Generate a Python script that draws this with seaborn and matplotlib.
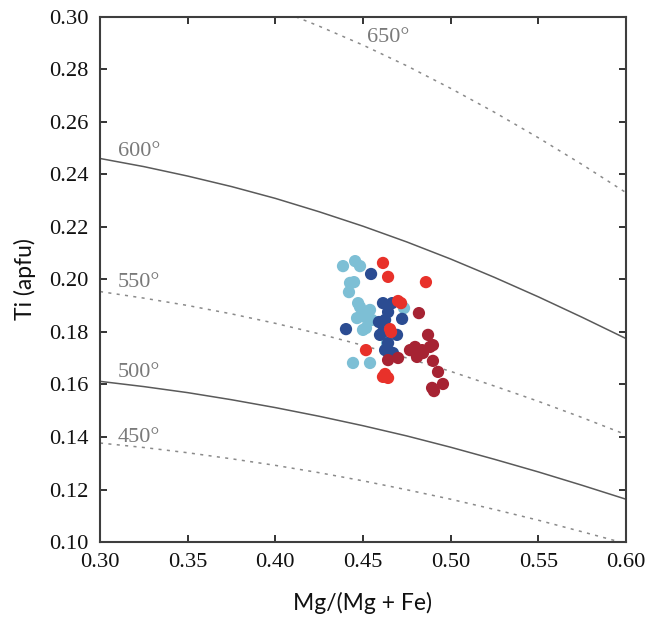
import matplotlib
matplotlib.use("Agg")
import matplotlib.pyplot as plt
import seaborn as sns
import pandas as pd
import numpy as np

# ---------------- data ----------------
# Isotherm curves
iso_x = [0.300, 0.325, 0.350, 0.375, 0.400, 0.425, 0.450, 0.475, 0.500, 0.525, 0.550, 0.575, 0.600]
iso_450 = [0.1377, 0.1360, 0.1340, 0.1317, 0.1292, 0.1264, 0.1233, 0.1199, 0.1163, 0.1124, 0.1083, 0.1039, 0.0994]
iso_500 = [0.1612, 0.1592, 0.1569, 0.1542, 0.1512, 0.1479, 0.1443, 0.1404, 0.1361, 0.1315, 0.1267, 0.1216, 0.1163]
iso_550 = [0.1954, 0.1929, 0.1901, 0.1869, 0.1833, 0.1793, 0.1749, 0.1701, 0.1650, 0.1594, 0.1536, 0.1474, 0.1409]
iso_600 = [0.2461, 0.2430, 0.2394, 0.2354, 0.2309, 0.2258, 0.2203, 0.2143, 0.2078, 0.2008, 0.1934, 0.1856, 0.1775]
iso_650 = [0.3232, 0.3187, 0.3144, 0.3092, 0.3032, 0.2965, 0.2893, 0.2814, 0.2728, 0.2637, 0.2540, 0.2438, 0.2331]
iso_labels = ["450°", "500°", "550°", "600°", "650°"]
iso_label_x = [0.310, 0.310, 0.310, 0.310, 0.452]
iso_label_y = [0.1400, 0.1644, 0.1987, 0.2486, 0.2920]

# Sample groups
lb_x = [0.4386, 0.4455, 0.4483, 0.4426, 0.4449, 0.4420, 0.4472, 0.4483, 0.4540, 0.4466, 0.4511, 0.4551, 0.4500, 0.4517, 0.4443, 0.4540, 0.4734, 0.4637]
lb_y = [0.2051, 0.2070, 0.2051, 0.1987, 0.1990, 0.1952, 0.1910, 0.1895, 0.1884, 0.1853, 0.1857, 0.1846, 0.1808, 0.1815, 0.1682, 0.1682, 0.1891, 0.1758]

db_x = [0.4546, 0.4614, 0.4666, 0.4643, 0.4626, 0.4591, 0.4723, 0.4403, 0.4614, 0.4597, 0.4694, 0.4643, 0.4626, 0.4671, 0.4780, 0.4643]
db_y = [0.2021, 0.1910, 0.1910, 0.1876, 0.1846, 0.1838, 0.1850, 0.1811, 0.1800, 0.1789, 0.1789, 0.1758, 0.1731, 0.1720, 0.1731, 0.1724]

rd_x = [0.4614, 0.4643, 0.4859, 0.4700, 0.4717, 0.4654, 0.4660, 0.4517, 0.4614, 0.4643, 0.4626]
rd_y = [0.2063, 0.2010, 0.1990, 0.1918, 0.1910, 0.1811, 0.1800, 0.1731, 0.1629, 0.1625, 0.1640]

dr_x = [0.4819, 0.4871, 0.4899, 0.4797, 0.4768, 0.4837, 0.4882, 0.4808, 0.4842, 0.4700, 0.4643, 0.4899, 0.4928, 0.4894, 0.4956, 0.4905]
dr_y = [0.1872, 0.1789, 0.1750, 0.1743, 0.1731, 0.1731, 0.1743, 0.1705, 0.1720, 0.1701, 0.1693, 0.1690, 0.1648, 0.1587, 0.1602, 0.1575]

group_names = ["A", "B", "C", "D"]
group_colors = ["#7dbfd5", "#2b4c92", "#e8312a", "#a62333"]

x_ticks = [0.30, 0.35, 0.40, 0.45, 0.50, 0.55, 0.60]
y_ticks = [0.10, 0.12, 0.14, 0.16, 0.18, 0.20, 0.22, 0.24, 0.26, 0.28, 0.30]

# ---------------- build tables ----------------
pts = pd.concat([
    pd.DataFrame({"x": lb_x, "y": lb_y, "g": group_names[0]}),
    pd.DataFrame({"x": db_x, "y": db_y, "g": group_names[1]}),
    pd.DataFrame({"x": rd_x, "y": rd_y, "g": group_names[2]}),
    pd.DataFrame({"x": dr_x, "y": dr_y, "g": group_names[3]}),
], ignore_index=True)

iso_vals = [iso_450, iso_500, iso_550, iso_600, iso_650]
iso_solid = [False, True, False, True, False]

# ---------------- plot ----------------
sns.set_style("ticks")
plt.rcParams["font.family"] = ["Liberation Serif", "DejaVu Serif"]

fig = plt.figure(figsize=(6.47, 6.20), dpi=100)
ax = fig.add_axes([0.1546, 0.1258, 0.8129, 0.8468])

for vals, solid in zip(iso_vals, iso_solid):
    df = pd.DataFrame({"x": iso_x, "y": vals})
    if solid:
        sns.lineplot(data=df, x="x", y="y", ax=ax, color="#5a5a5a", lw=1.1,
                     sort=False, estimator=None, zorder=1)
    else:
        sns.lineplot(data=df, x="x", y="y", ax=ax, color="#8a8a8a", lw=1.1,
                     sort=False, estimator=None, zorder=1, linestyle=(0, (2, 3.5)))

for lab, lx, ly in zip(iso_labels, iso_label_x, iso_label_y):
    ax.text(lx, ly, lab, fontsize=16, color="#7a7a7a", ha="left", va="center",
            family=["Liberation Serif", "DejaVu Serif"])

sns.scatterplot(data=pts, x="x", y="y", hue="g", hue_order=group_names,
                palette=group_colors, s=78, linewidth=0, alpha=1, ax=ax,
                legend=False, zorder=3)

ax.set_xlim(0.30, 0.60)
ax.set_ylim(0.10, 0.30)
ax.set_xticks(x_ticks)
ax.set_yticks(y_ticks)
ax.set_xticklabels([f"{t:.2f}" for t in x_ticks])
ax.set_yticklabels([f"{t:.2f}" for t in y_ticks])
ax.tick_params(direction="in", top=True, right=True, length=5, width=1.2,
               color="#111111", labelsize=16.2, pad=8, labelcolor="#111111")
for sp in ax.spines.values():
    sp.set_visible(True)
    sp.set_linewidth(1.5)
    sp.set_color("#3e3e3e")

ax.set_xlabel("Mg/(Mg + Fe)", fontsize=16.5, family=["Lato", "DejaVu Sans"],
              color="#111111", labelpad=14)
ax.set_ylabel("Ti (apfu)", fontsize=16.5, family=["Lato", "DejaVu Sans"],
              color="#111111", labelpad=10)

fig.savefig("out.png", dpi=100)
